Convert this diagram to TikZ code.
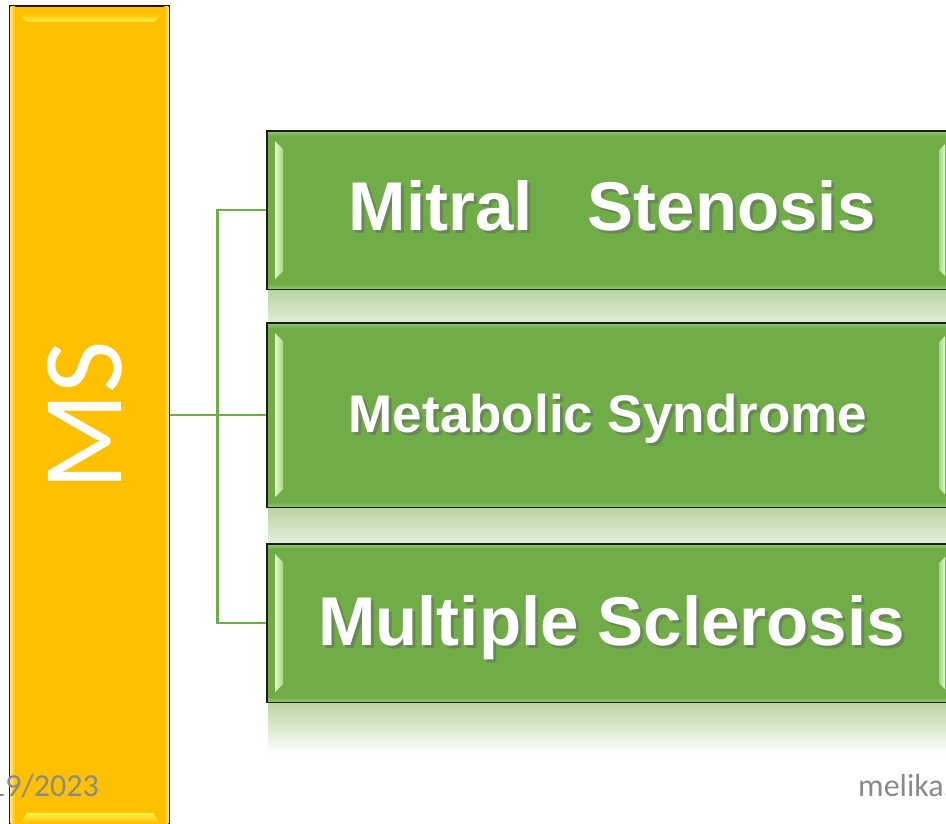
\documentclass[tikz,border=0pt]{standalone}
\usepackage{fontspec}
\setmainfont{Liberation Sans}
\newfontfamily\calibri{Carlito}
\usetikzlibrary{calc}

\definecolor{msorange}{HTML}{FFC000}
\definecolor{orangelight}{HTML}{FFE27E}
\definecolor{orangeglow}{HTML}{FFF24A}
\definecolor{msgreen}{HTML}{70AD47}
\definecolor{greenlight}{HTML}{E4FBCB}
\definecolor{greenmid}{HTML}{A5D585}
\definecolor{greenrim}{HTML}{8CC26A}
\definecolor{reflgreen}{HTML}{B8D5A3}
\definecolor{boxedge}{HTML}{1C1C1C}
\definecolor{footgray}{HTML}{8A8A8A}
\definecolor{labelshade}{HTML}{6A8758}

% white label text with a dark drop shadow set behind it
\newcommand{\dropshadowtext}[1]{%
  \makebox[0pt][l]{\hspace{3pt}\raisebox{-3pt}{\textcolor{labelshade}{#1}}}#1}

\tikzset{
  msbar/.style={draw=boxedge, line width=1.4pt, fill=msorange, inner sep=0pt,
    minimum width=159pt, minimum height=839pt},
  greenbox/.style={draw=boxedge, line width=1.4pt, fill=msgreen, inner sep=0pt,
    minimum width=689pt},
  conn/.style={draw=msgreen, line width=2.8pt},
  labeltext/.style={text=white, anchor=base, inner sep=0pt},
  footer/.style={text=footgray, font=\calibri\fontsize{32}{38}\selectfont,
    anchor=base west, inner sep=0pt},
}

\begin{document}
\begin{tikzpicture}[x=1pt, y=-1pt]
  \useasboundingbox (0,0) rectangle (946,823);
  \fill[white] (0,0) rectangle (946,823);

  % soft reflections below the three boxes
  \shade[top color=reflgreen, bottom color=white] (268,289) rectangle (946,349);
  \shade[top color=reflgreen, bottom color=white] (268,507) rectangle (946,567);
  \shade[top color=reflgreen, bottom color=white] (268,702) rectangle (946,754);

  \begin{scope}
    \clip (0,0) rectangle (946,823);

    % orange bar on the left
    \node[msbar] (msbox) at (89.5,425.5) {};
    \shade[left color=orangelight, right color=msorange] (10.7,6.7) rectangle (15,845);
    \shade[left color=msorange, right color=orangelight] (164,6.7) rectangle (168.3,845);
    \shade[top color=msorange, bottom color=orangeglow]
      (19,14) -- (162,14) -- (155,21.5) -- (26,21.5) -- cycle;
    \shade[top color=orangeglow, bottom color=msorange]
      (27,813) -- (153,813) -- (160,823) -- (20,823) -- cycle;
    \node[text=white, inner sep=0pt, font=\calibri\fontsize{114}{120}\selectfont]
      (mslabel) at (85,416) {\rotatebox{90}{MS}};

    % three green boxes
    \node[greenbox, minimum height=158pt] (gbox1) at (611.5,210) {};
    \node[greenbox, minimum height=184pt] (gbox2) at (611.5,415) {};
    \node[greenbox, minimum height=158pt] (gbox3) at (611.5,623) {};

    % bevel highlights of the green boxes
    \foreach \t/\b in {131/289, 323/507, 544/702}{
      \shade[top color=greenrim, bottom color=msgreen] (268,\t+1) rectangle (946,\t+5);
      \shade[top color=msgreen, bottom color=greenrim] (268,\b-5) rectangle (946,\b-1);
      \shade[left color=greenlight, right color=greenmid]
        (275,\t+10) -- (283,\t+18) -- (283,\b-18) -- (275,\b-10) -- cycle;
      \shade[left color=greenmid, right color=greenlight]
        (939,\t+19) -- (945,\t+13) -- (945,\b-13) -- (939,\b-19) -- cycle;
    }

    % connectors
    \draw[conn] (gbox1.west) -- ++(-49,0) |- (gbox3.west);
    \draw[conn] (msbox.east |- gbox2.west) -- (gbox2.west);

    % box labels
    \begin{scope}[font=\bfseries\fontsize{69}{80}\selectfont]
      \node[labeltext] (t1) at (612,230) {\dropshadowtext{Mitral\hspace*{0.8em}Stenosis}};
      \node[labeltext] (t3) at (611.5,645) {\dropshadowtext{Multiple Sclerosis}};
    \end{scope}
    \node[labeltext, font=\bfseries\fontsize{53}{62}\selectfont]
      (t2) at (608,432) {\dropshadowtext{Metabolic Syndrome}};

    % footer
    \node[footer] (date) at (-11,796) {19/2023};
    \node[footer] (site) at (858,796) {melika.};
  \end{scope}
\end{tikzpicture}
\end{document}
